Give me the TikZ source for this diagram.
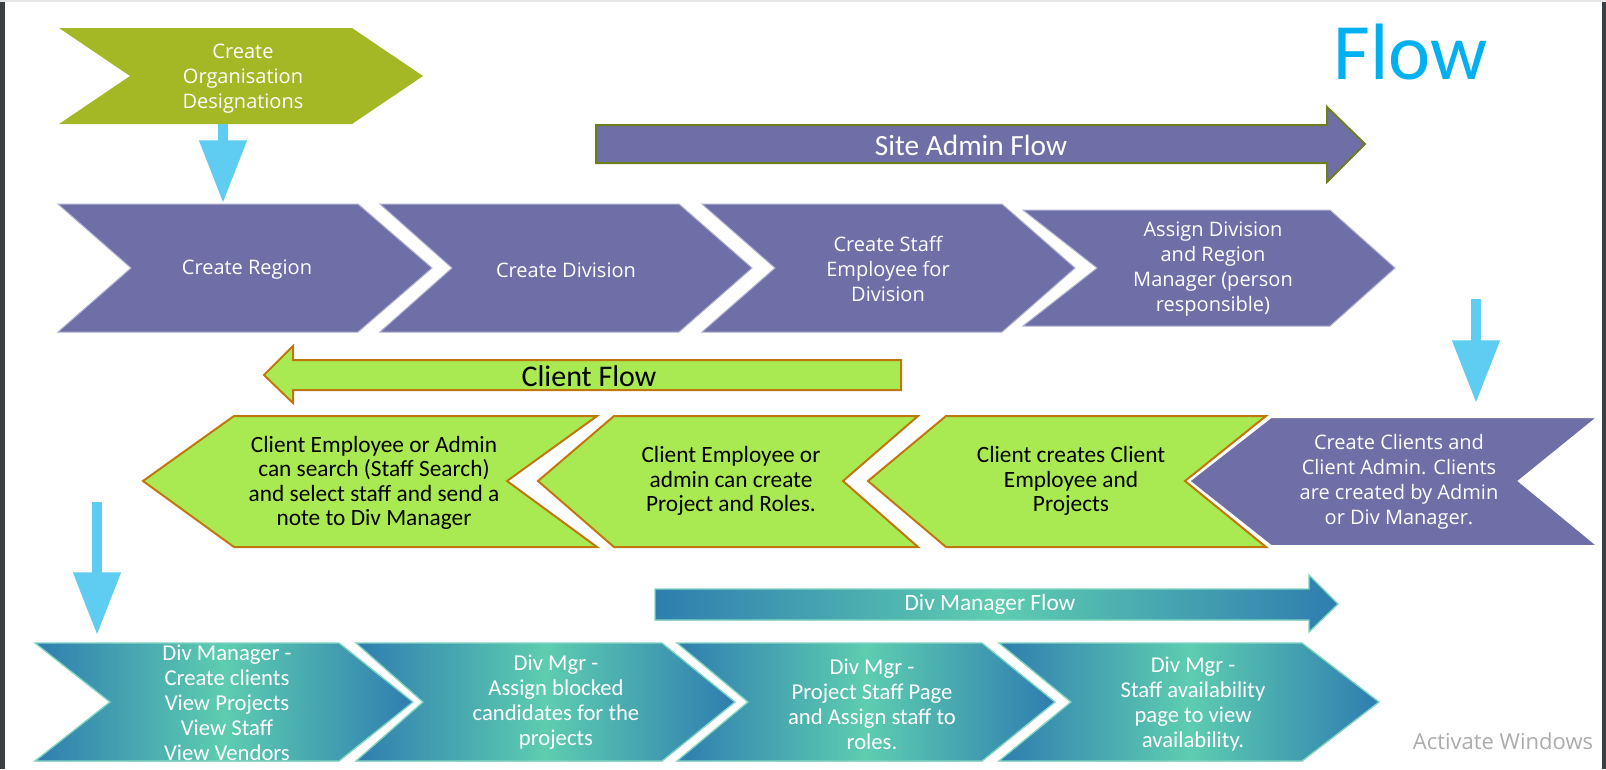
\documentclass[tikz,border=0pt]{standalone}
\usepackage{fontspec}
\setmainfont{Carlito}
\newfontfamily\uifont{Open Sans}
\usetikzlibrary{arrows.meta}

\definecolor{sitepurple}{HTML}{6F6FA8}
\definecolor{orggreen}{HTML}{A4B825}
\definecolor{clientgreen}{HTML}{A9EA52}
\definecolor{clientedge}{HTML}{C0780E}
\definecolor{arrowcyan}{HTML}{5FCDF2}
\definecolor{titlecyan}{HTML}{00B0F0}
\definecolor{tealdark}{HTML}{2F7DB0}
\definecolor{teallight}{HTML}{5DCDB0}
\definecolor{tealedge}{HTML}{7FD6BF}
\definecolor{siteedge}{HTML}{6E7D1E}
\definecolor{winborder}{HTML}{3C3F41}

\tikzset{
  siteshape/.style={fill=sitepurple,draw=sitepurple!55!white,line width=0.75pt},
  orgshape/.style={fill=orggreen},
  clientshape/.style={fill=clientgreen,draw=clientedge,line width=1.5pt},
  divshape/.style={left color=tealdark,right color=tealdark,middle color=teallight,draw=tealedge,line width=1pt},
  uitext/.style={text=white,align=center,inner sep=0pt,font=\uifont\fontsize{15}{18.75}\selectfont},
  clienttext/.style={text=black,align=center,inner sep=0pt,font=\fontsize{17.5}{18.4}\selectfont},
  divtext/.style={text=white,align=center,inner sep=0pt,font=\fontsize{17}{18.75}\selectfont},
  downarrow/.style={draw=arrowcyan,line width=7.5pt,-{Triangle[length=47pt,width=34pt]}},
}

\begin{document}
\begin{tikzpicture}[x=0.75pt,y=-0.75pt]
\useasboundingbox (0,0) rectangle (1606,769);
\fill[white] (0,0) rectangle (1606,769);
\fill[winborder] (0,0) rectangle (5,769);
\fill[winborder] (1602,0) rectangle (1606,769);
\fill[gray!20] (0,0) rectangle (1606,1.5);

% title
\node[text=titlecyan,font=\fontsize{60}{60}\selectfont,anchor=base,inner sep=0pt] (title) at (1411,79) {Flow};

% organisation
\fill[orgshape] (59,28) -- (352,28) -- (423,76) -- (352,124) -- (59,124) -- (130,76) -- cycle;
\node[uitext] (org) at (243,79) {Create\\Organisation\\Designations};

% site admin flow
\filldraw[fill=sitepurple,draw=siteedge,line width=1.5pt] (596,125) -- (1327,125) -- (1327,107) -- (1365,144) -- (1327,182) -- (1327,163) -- (596,163) -- cycle;
\node[text=white,font=\fontsize{22}{22}\selectfont,inner sep=0pt] (siteflow) at (971,145) {Site Admin Flow};

\filldraw[siteshape] (58,204) -- (358,204) -- (432,268) -- (358,332) -- (58,332) -- (131,268) -- cycle;
\filldraw[siteshape] (380,204) -- (679,204) -- (752,268) -- (679,332) -- (380,332) -- (452,268) -- cycle;
\filldraw[siteshape] (702,204) -- (1002,204) -- (1075,268) -- (1002,332) -- (702,332) -- (775,268) -- cycle;
\filldraw[siteshape] (1023,210) -- (1330,210) -- (1395,268) -- (1330,326) -- (1023,326) -- (1097,268) -- cycle;
\node[uitext] (region) at (247,270) {Create Region};
\node[uitext] (division) at (566,270) {Create Division};
\node[uitext] (staff) at (888,269) {Create Staff\\Employee for\\Division};
\node[uitext] (manager) at (1213,269) {Assign Division\\and Region\\Manager (person\\responsible)};

% client flow
\filldraw[fill=clientgreen,draw=clientedge,line width=1.5pt] (901,360) -- (293,360) -- (293,346) -- (264,375) -- (293,403) -- (293,390) -- (901,390) -- cycle;
\node[text=black,font=\fontsize{22.5}{22.5}\selectfont,inner sep=0pt] (clientflow) at (589,376) {Client Flow};

\filldraw[clientshape] (234,416) -- (597,416) -- (507,481) -- (597,547) -- (234,547) -- (143,481) -- cycle;
\filldraw[clientshape] (614,416) -- (918,416) -- (843,481) -- (918,547) -- (614,547) -- (538,481) -- cycle;
\filldraw[clientshape] (946,416) -- (1266,416) -- (1185,481) -- (1266,547) -- (946,547) -- (868,481) -- cycle;
\filldraw[siteshape,draw=white,line width=1.5pt] (1271,417) -- (1598,417) -- (1519,481) -- (1598,546) -- (1271,546) -- (1189,481) -- cycle;
\node[clienttext] (search) at (374,483) {Client Employee or Admin\\can search (Staff Search)\\and select staff and send a\\note to Div Manager};
\node[clienttext] (project) at (731,481) {Client Employee or\\admin can create\\Project and Roles.};
\node[clienttext] (employee) at (1071,481) {Client creates Client\\Employee and\\Projects};
\node[uitext] (clients) at (1399,482) {Create Clients and\\Client Admin. Clients\\are created by Admin\\or Div Manager.};

% div manager flow
\filldraw[divshape] (655,589) -- (1309,589) -- (1309,575) -- (1338,604) -- (1309,632) -- (1309,620) -- (655,620) -- cycle;
\node[text=white,font=\fontsize{17.5}{17.5}\selectfont,inner sep=0pt] (divflow) at (990,604) {Div Manager Flow};

\filldraw[divshape] (35,643) -- (339,643) -- (413,702) -- (339,761) -- (35,761) -- (110,702) -- cycle;
\filldraw[divshape] (356,643) -- (662,643) -- (735,702) -- (662,761) -- (356,761) -- (423,702) -- cycle;
\filldraw[divshape] (677,643) -- (982,643) -- (1055,702) -- (982,761) -- (677,761) -- (748,702) -- cycle;
\filldraw[divshape] (999,643) -- (1302,643) -- (1379,702) -- (1302,761) -- (999,761) -- (1071,702) -- cycle;
\node[divtext] (divmanager) at (227,703) {Div Manager -\\Create clients\\View Projects\\View Staff\\View Vendors};
\node[divtext] (blocked) at (556,702) {Div Mgr -\\Assign blocked\\candidates for the\\projects};
\node[divtext] (projectstaff) at (872,704) {Div Mgr -\\Project Staff Page\\and Assign staff to\\roles.};
\node[divtext] (availability) at (1193,704) {Div Mgr -\\Staff availability\\page to view\\availability.};

% down arrows
\coordinate (org-s) at (223,124);
\coordinate (region-n) at (223,203);
\coordinate (manager-e) at (1476,299);
\coordinate (clients-n) at (1476,403);
\coordinate (search-w) at (97,502);
\coordinate (divmanager-n) at (97,635);
\draw[downarrow] (org-s) -- (region-n);
\draw[downarrow] (manager-e) -- (clients-n);
\draw[downarrow] (search-w) -- (divmanager-n);

\node[text=gray!65,font=\uifont\fontsize{16.5}{16.5}\selectfont,inner sep=0pt] (activate) at (1503,741) {Activate Windows};
\end{tikzpicture}
\end{document}
